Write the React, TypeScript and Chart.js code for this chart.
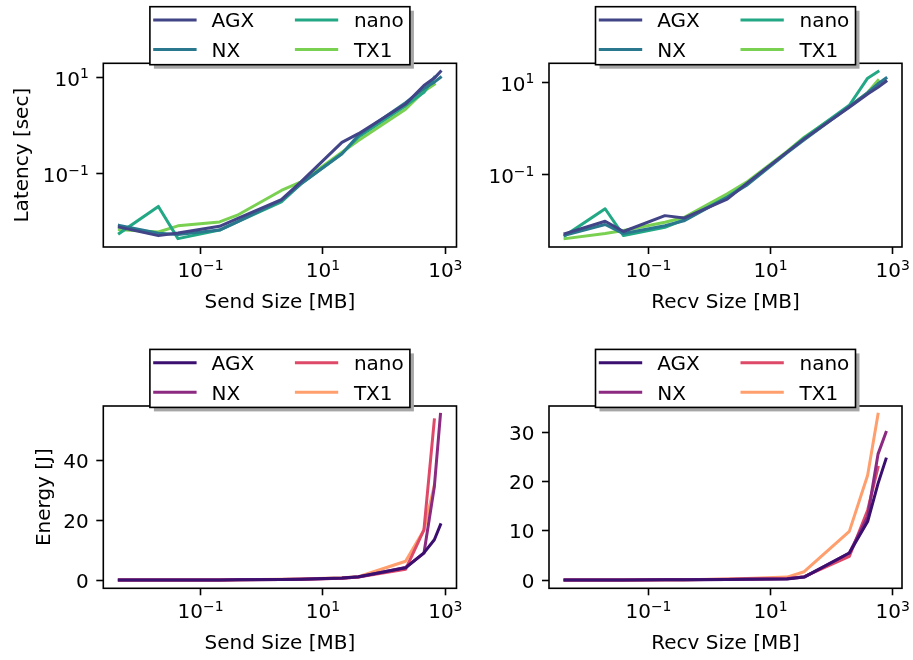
import React, { useEffect, useRef } from 'react';
import { Chart, registerables } from 'chart.js';

Chart.register(...registerables);

// ---------------- data ----------------
const DEVICES = ['AGX', 'NX', 'nano', 'TX1'];
const LATENCY_COLORS = ['#414487', '#2a788e', '#22a884', '#7ad151'];
const ENERGY_COLORS = ['#3b0f70', '#8c2981', '#de4968', '#fe9f6d'];

const SEND_SIZES_MB = [0.0047, 0.0204, 0.0427, 0.204, 0.398, 2.09, 4.37, 20.4, 38, 224, 447, 661, 832];
const RECV_SIZES_MB = [0.0043, 0.0195, 0.039, 0.186, 0.38, 1.95, 4.0, 18.6, 35.5, 195, 389, 575, 776];

const SEND_LATENCY_AGX = [0.0078, 0.0052, 0.0059, 0.0081, 0.0117, 0.029, 0.068, 0.45, 0.68, 2.8, 6.8, 9.7, 13.2];
const SEND_LATENCY_NX = [0.0085, 0.0058, 0.0055, 0.0068, 0.010, 0.028, 0.062, 0.26, 0.63, 3.0, 5.9, 8.0, 10.0];
const SEND_LATENCY_NANO = [0.0058, 0.021, 0.0045, 0.0068, 0.010, 0.026, 0.062, 0.26, 0.58, 2.6, 4.9, 10.0];
const SEND_LATENCY_TX1 = [0.0069, 0.0062, 0.0083, 0.010, 0.0138, 0.045, 0.068, 0.28, 0.49, 2.2, 5.2, 7.2];

const RECV_LATENCY_AGX = [0.0054, 0.010, 0.006, 0.0132, 0.0117, 0.030, 0.064, 0.31, 0.60, 2.9, 5.6, 7.8, 10.5];
const RECV_LATENCY_NX = [0.0050, 0.0085, 0.0054, 0.0080, 0.0102, 0.033, 0.059, 0.30, 0.57, 3.0, 6.0, 9.3, 12.3];
const RECV_LATENCY_NANO = [0.0049, 0.0186, 0.0049, 0.0074, 0.0107, 0.033, 0.064, 0.31, 0.63, 3.2, 12.3, 17.0];
const RECV_LATENCY_TX1 = [0.0042, 0.0054, 0.0063, 0.0095, 0.012, 0.039, 0.069, 0.32, 0.65, 3.0, 6.0, 11.0];

const SEND_ENERGY_AGX = [0.02, 0.02, 0.03, 0.05, 0.08, 0.2, 0.3, 0.7, 1.1, 4.1, 9.1, 13.5, 18.5];
const SEND_ENERGY_NX = [0.02, 0.02, 0.03, 0.05, 0.08, 0.2, 0.3, 0.6, 1.0, 4.2, 9.0, 31.2, 55.5];
const SEND_ENERGY_NANO = [0.02, 0.03, 0.03, 0.06, 0.1, 0.2, 0.3, 0.6, 1.0, 3.6, 16.8, 53.6];
const SEND_ENERGY_TX1 = [0.02, 0.02, 0.03, 0.06, 0.1, 0.25, 0.4, 0.8, 1.1, 6.3, 16.8, 31.7];

const RECV_ENERGY_AGX = [0.01, 0.02, 0.02, 0.04, 0.06, 0.1, 0.15, 0.2, 0.6, 5.5, 11.9, 19.6, 24.6];
const RECV_ENERGY_NX = [0.01, 0.02, 0.02, 0.04, 0.06, 0.1, 0.15, 0.25, 0.6, 5.5, 12.9, 25.6, 30.0];
const RECV_ENERGY_NANO = [0.02, 0.02, 0.03, 0.05, 0.07, 0.15, 0.2, 0.3, 0.7, 4.8, 14.2, 22.9];
const RECV_ENERGY_TX1 = [0.02, 0.02, 0.03, 0.05, 0.08, 0.2, 0.3, 0.6, 1.7, 9.9, 21.3, 33.7];

const X_TICKS = [0.1, 10, 1000];
const LATENCY_Y_TICKS = [0.1, 10];
const SEND_ENERGY_Y_TICKS = [0, 20, 40];
const RECV_ENERGY_Y_TICKS = [0, 10, 20, 30];

const SEND_X_TITLE = 'Send Size [MB]';
const RECV_X_TITLE = 'Recv Size [MB]';
const LATENCY_Y_TITLE = 'Latency [sec]';
const ENERGY_Y_TITLE = 'Energy [J]';

// ---------------- helpers ----------------
const FONT_FAMILY = '"DejaVu Sans", Verdana, sans-serif';
const FS = 20;

function logRange(vals: number[]): [number, number] {
  const lo = Math.log10(Math.min(...vals));
  const hi = Math.log10(Math.max(...vals));
  const m = (hi - lo) * 0.05;
  return [Math.pow(10, lo - m), Math.pow(10, hi + m)];
}
function linRange(vals: number[]): [number, number] {
  const lo = Math.min(...vals);
  const hi = Math.max(...vals);
  const m = (hi - lo) * 0.05;
  return [lo - m, hi + m];
}

function powParts(v: number): string {
  const e = Math.round(Math.log10(v));
  return e < 0 ? '\u2212' + String(-e) : String(e);
}

function drawPow(ctx: CanvasRenderingContext2D, v: number, x: number, y: number, align: 'center' | 'right') {
  const base = '10';
  const exp = powParts(v);
  ctx.font = `${FS}px ${FONT_FAMILY}`;
  const wb = ctx.measureText(base).width;
  ctx.font = `${FS * 0.7}px ${FONT_FAMILY}`;
  const we = ctx.measureText(exp).width;
  const total = wb + we;
  const x0 = align === 'center' ? x - total / 2 : x - total;
  ctx.textAlign = 'left';
  ctx.textBaseline = 'alphabetic';
  ctx.font = `${FS}px ${FONT_FAMILY}`;
  ctx.fillText(base, x0, y);
  ctx.font = `${FS * 0.7}px ${FONT_FAMILY}`;
  ctx.fillText(exp, x0 + wb, y - 7.5);
}

const decorPlugin = {
  id: 'decor',
  afterDraw(chart: any) {
    const cfg = chart.options.plugins.decor;
    const ctx: CanvasRenderingContext2D = chart.ctx;
    const a = chart.chartArea;
    const xs = chart.scales.x;
    const ys = chart.scales.y;
    ctx.save();
    // frame
    ctx.strokeStyle = '#000';
    ctx.lineWidth = 1.6;
    ctx.strokeRect(a.left, a.top, a.right - a.left, a.bottom - a.top);

    ctx.fillStyle = '#000';
    // x tick labels
    for (const t of cfg.xTicks) {
      const px = xs.getPixelForValue(t);
      drawPow(ctx, t, px, a.bottom + 30, 'center');
    }
    // y tick labels
    for (const t of cfg.yTicks) {
      const py = ys.getPixelForValue(t);
      if (cfg.yLog) {
        drawPow(ctx, t, a.left - 14.5, py + 8.5, 'right');
      } else {
        ctx.font = `${FS}px ${FONT_FAMILY}`;
        ctx.textAlign = 'right';
        ctx.textBaseline = 'alphabetic';
        ctx.fillText(String(t), a.left - 14.5, py + 7.5);
      }
    }
    // x title
    ctx.font = `${FS}px ${FONT_FAMILY}`;
    ctx.textAlign = 'center';
    ctx.textBaseline = 'alphabetic';
    ctx.fillText(cfg.xTitle, (a.left + a.right) / 2, a.bottom + 60.5);
    // y title
    if (cfg.yTitle) {
      ctx.save();
      ctx.translate(cfg.yTitleX, (a.top + a.bottom) / 2);
      ctx.rotate(-Math.PI / 2);
      ctx.textAlign = 'center';
      ctx.textBaseline = 'alphabetic';
      ctx.fillText(cfg.yTitle, 0, 0);
      ctx.restore();
    }
    // legend
    const cx = (a.left + a.right) / 2;
    const boxL = cx - 130;
    const boxT = a.top - 56.6;
    const boxW = 260;
    const boxH = 58;
    ctx.fillStyle = '#a6a6a6';
    ctx.fillRect(boxL + 4, boxT + 4, boxW, boxH);
    ctx.fillStyle = '#ffffff';
    ctx.fillRect(boxL, boxT, boxW, boxH);
    ctx.strokeStyle = '#000';
    ctx.lineWidth = 1.6;
    ctx.strokeRect(boxL, boxT, boxW, boxH);
    const rows = [a.top - 43.2, a.top - 13.8];
    const cols = [
      { h0: cx - 126.7, h1: cx - 83.3, tx: cx - 68.3 },
      { h0: cx + 15, h1: cx + 58.3, tx: cx + 74 },
    ];
    chart.data.datasets.forEach((ds: any, i: number) => {
      const col = cols[Math.floor(i / 2)];
      const ry = rows[i % 2];
      ctx.strokeStyle = ds.borderColor;
      ctx.lineWidth = 3;
      ctx.lineCap = 'butt';
      ctx.beginPath();
      ctx.moveTo(col.h0, ry);
      ctx.lineTo(col.h1, ry);
      ctx.stroke();
      ctx.fillStyle = '#000';
      ctx.font = `${FS}px ${FONT_FAMILY}`;
      ctx.textAlign = 'left';
      ctx.textBaseline = 'alphabetic';
      ctx.fillText(ds.label, col.tx, ry + 7.3);
    });
    ctx.restore();
  },
};

type PanelSpec = {
  left: number;
  top: number;
  width: number;
  height: number;
  area: [number, number, number, number];
  sizes: number[];
  series: number[][];
  colors: string[];
  yLog: boolean;
  yTicks: number[];
  xTitle: string;
  yTitle: string | null;
  yTitleX: number;
};

function Panel({ spec }: { spec: PanelSpec }) {
  const ref = useRef<HTMLCanvasElement>(null);
  useEffect(() => {
    const canvas = ref.current;
    if (!canvas) return;
    const [L, T, R, B] = spec.area;
    const localL = L - spec.left;
    const localT = T - spec.top;
    const localR = R - spec.left;
    const localB = B - spec.top;
    const allX: number[] = [];
    const allY: number[] = [];
    spec.series.forEach((ys) => ys.forEach((y, j) => { allX.push(spec.sizes[j]); allY.push(y); }));
    const xr = logRange(allX);
    const yr = spec.yLog ? logRange(allY) : linRange(allY);
    const gridOpts = {
      display: true,
      drawOnChartArea: false,
      drawTicks: true,
      tickLength: 7,
      tickWidth: 1.6,
      tickColor: '#000',
      color: '#000',
    };
    const chart = new Chart(canvas, {
      type: 'line',
      data: {
        datasets: spec.series.map((ys, i) => ({
          label: DEVICES[i],
          data: ys.map((y, j) => ({ x: spec.sizes[j], y })),
          borderColor: spec.colors[i],
          backgroundColor: spec.colors[i],
          borderWidth: 3,
          pointRadius: 0,
          pointHoverRadius: 0,
          tension: 0,
          fill: false,
          borderJoinStyle: 'round',
          borderCapStyle: 'square',
        })),
      },
      options: {
        responsive: false,
        maintainAspectRatio: false,
        animation: false,
        devicePixelRatio: 1,
        events: [],
        layout: { padding: { left: 0, top: localT, right: spec.width - localR, bottom: 0 } },
        plugins: {
          legend: { display: false },
          tooltip: { enabled: false },
          decor: {
            xTicks: X_TICKS,
            yTicks: spec.yTicks,
            yLog: spec.yLog,
            xTitle: spec.xTitle,
            yTitle: spec.yTitle,
            yTitleX: spec.yTitleX - spec.left,
          },
        } as any,
        scales: {
          x: {
            type: 'logarithmic',
            position: 'bottom',
            min: xr[0],
            max: xr[1],
            afterBuildTicks: (s: any) => { s.ticks = X_TICKS.map((v) => ({ value: v })); },
            afterFit: (s: any) => { s.height = spec.height - localB; },
            ticks: { display: false, autoSkip: false },
            grid: gridOpts,
            border: { display: false },
          },
          y: {
            type: spec.yLog ? 'logarithmic' : 'linear',
            position: 'left',
            min: yr[0],
            max: yr[1],
            afterBuildTicks: (s: any) => { s.ticks = spec.yTicks.map((v) => ({ value: v })); },
            afterFit: (s: any) => { s.width = localL; },
            ticks: { display: false, autoSkip: false },
            grid: gridOpts,
            border: { display: false },
          },
        } as any,
      } as any,
      plugins: [decorPlugin as any],
    });
    return () => chart.destroy();
  }, [spec]);
  return (
    <canvas
      ref={ref}
      width={spec.width}
      height={spec.height}
      style={{ position: 'absolute', left: spec.left, top: spec.top, width: spec.width, height: spec.height }}
    />
  );
}

const LEFT_X: [number, number] = [103.3, 456.5];
const RIGHT_X: [number, number] = [549, 902];
const TOP_Y: [number, number] = [63.3, 247];
const BOTTOM_Y: [number, number] = [406, 588.3];

const PANELS: PanelSpec[] = [
  {
    left: 0, top: 0, width: 470, height: 330,
    area: [LEFT_X[0], TOP_Y[0], LEFT_X[1], TOP_Y[1]],
    sizes: SEND_SIZES_MB,
    series: [SEND_LATENCY_AGX, SEND_LATENCY_NX, SEND_LATENCY_NANO, SEND_LATENCY_TX1],
    colors: LATENCY_COLORS, yLog: true, yTicks: LATENCY_Y_TICKS,
    xTitle: SEND_X_TITLE, yTitle: LATENCY_Y_TITLE, yTitleX: 27.7,
  },
  {
    left: 470, top: 0, width: 443, height: 330,
    area: [RIGHT_X[0], TOP_Y[0], RIGHT_X[1], TOP_Y[1]],
    sizes: RECV_SIZES_MB,
    series: [RECV_LATENCY_AGX, RECV_LATENCY_NX, RECV_LATENCY_NANO, RECV_LATENCY_TX1],
    colors: LATENCY_COLORS, yLog: true, yTicks: LATENCY_Y_TICKS,
    xTitle: RECV_X_TITLE, yTitle: null, yTitleX: 0,
  },
  {
    left: 0, top: 330, width: 470, height: 330,
    area: [LEFT_X[0], BOTTOM_Y[0], LEFT_X[1], BOTTOM_Y[1]],
    sizes: SEND_SIZES_MB,
    series: [SEND_ENERGY_AGX, SEND_ENERGY_NX, SEND_ENERGY_NANO, SEND_ENERGY_TX1],
    colors: ENERGY_COLORS, yLog: false, yTicks: SEND_ENERGY_Y_TICKS,
    xTitle: SEND_X_TITLE, yTitle: ENERGY_Y_TITLE, yTitleX: 49.7,
  },
  {
    left: 470, top: 330, width: 443, height: 330,
    area: [RIGHT_X[0], BOTTOM_Y[0], RIGHT_X[1], BOTTOM_Y[1]],
    sizes: RECV_SIZES_MB,
    series: [RECV_ENERGY_AGX, RECV_ENERGY_NX, RECV_ENERGY_NANO, RECV_ENERGY_TX1],
    colors: ENERGY_COLORS, yLog: false, yTicks: RECV_ENERGY_Y_TICKS,
    xTitle: RECV_X_TITLE, yTitle: null, yTitleX: 0,
  },
];

export default function App() {
  return (
    <div style={{ position: 'absolute', left: 0, top: 0, width: 913, height: 660, background: '#fff' }}>
      {PANELS.map((p, i) => (
        <Panel key={i} spec={p} />
      ))}
    </div>
  );
}
